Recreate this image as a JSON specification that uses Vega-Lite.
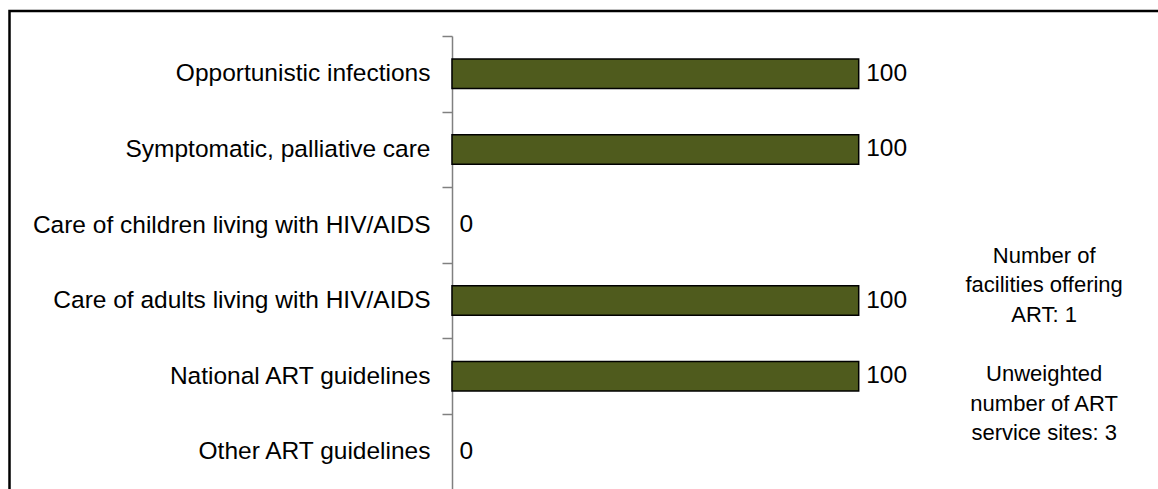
{
  "$schema": "https://vega.github.io/schema/vega-lite/v6.json",
  "width": 1152,
  "height": 500,
  "autosize": {"type": "none"},
  "padding": {"left": 9.5, "top": 11, "right": 0, "bottom": 0},
  "background": "white",
  "config": {
    "font": "Liberation Sans",
    "view": {"stroke": "#000000", "strokeWidth": 2.5, "fill": "white"}
  },
  "datasets": {
    "bars": [
      {"category": "Opportunistic infections", "value": 100},
      {"category": "Symptomatic, palliative care", "value": 100},
      {"category": "Care of children living with HIV/AIDS", "value": 0},
      {"category": "Care of adults living with HIV/AIDS", "value": 100},
      {"category": "National ART guidelines", "value": 100},
      {"category": "Other ART guidelines", "value": 0}
    ],
    "note1": [
      {"category": "Care of adults living with HIV/AIDS", "xpos": 145.6, "note": "Number of\nfacilities offering\nART: 1"}
    ],
    "note2": [
      {"category": "National ART guidelines", "xpos": 145.6, "note": "Unweighted\nnumber of ART\nservice sites: 3"}
    ]
  },
  "encoding": {
    "y": {
      "field": "category",
      "type": "nominal",
      "sort": null,
      "scale": {
        "domain": ["Opportunistic infections", "Symptomatic, palliative care", "Care of children living with HIV/AIDS", "Care of adults living with HIV/AIDS", "National ART guidelines", "Other ART guidelines"],
        "range": [25, 478.6],
        "paddingInner": 0,
        "paddingOuter": 0
      },
      "axis": {
        "title": null,
        "orient": "left",
        "offset": -442.5,
        "tickBand": "extent",
        "domainColor": "#808080",
        "domainWidth": 1.5,
        "tickColor": "#808080",
        "tickWidth": 1.5,
        "tickSize": 10,
        "labelPadding": 12,
        "labelFontSize": 24.5,
        "labelColor": "#000000",
        "labelLimit": 600
      }
    }
  },
  "layer": [
    {
      "data": {"name": "bars"},
      "transform": [{"filter": "datum.value > 0"}],
      "mark": {"type": "bar", "color": "#4F5B1D", "stroke": "#000000", "strokeWidth": 1.5, "height": {"band": 0.39}},
      "encoding": {
        "x": {"field": "value", "type": "quantitative", "scale": {"domain": [0, 100], "range": [442.5, 849.2]}, "axis": null}
      }
    },
    {
      "data": {"name": "bars"},
      "mark": {"type": "text", "align": "left", "baseline": "middle", "dx": 7.5, "fontSize": 24.5, "color": "#000000"},
      "encoding": {
        "x": {"field": "value", "type": "quantitative"},
        "text": {"field": "value", "type": "quantitative"}
      }
    },
    {
      "data": {"name": "note1"},
      "mark": {"type": "text", "align": "center", "baseline": "alphabetic", "fontSize": 22, "lineHeight": 29.5, "lineBreak": "\n", "color": "#000000"},
      "encoding": {
        "x": {"field": "xpos", "type": "quantitative"},
        "y": {"field": "category", "type": "nominal", "bandPosition": 0},
        "text": {"field": "note", "type": "nominal"}
      }
    },
    {
      "data": {"name": "note2"},
      "mark": {"type": "text", "align": "center", "baseline": "alphabetic", "dy": 5, "fontSize": 22, "lineHeight": 29.5, "lineBreak": "\n", "color": "#000000"},
      "encoding": {
        "x": {"field": "xpos", "type": "quantitative"},
        "y": {"field": "category", "type": "nominal"},
        "text": {"field": "note", "type": "nominal"}
      }
    }
  ]
}
